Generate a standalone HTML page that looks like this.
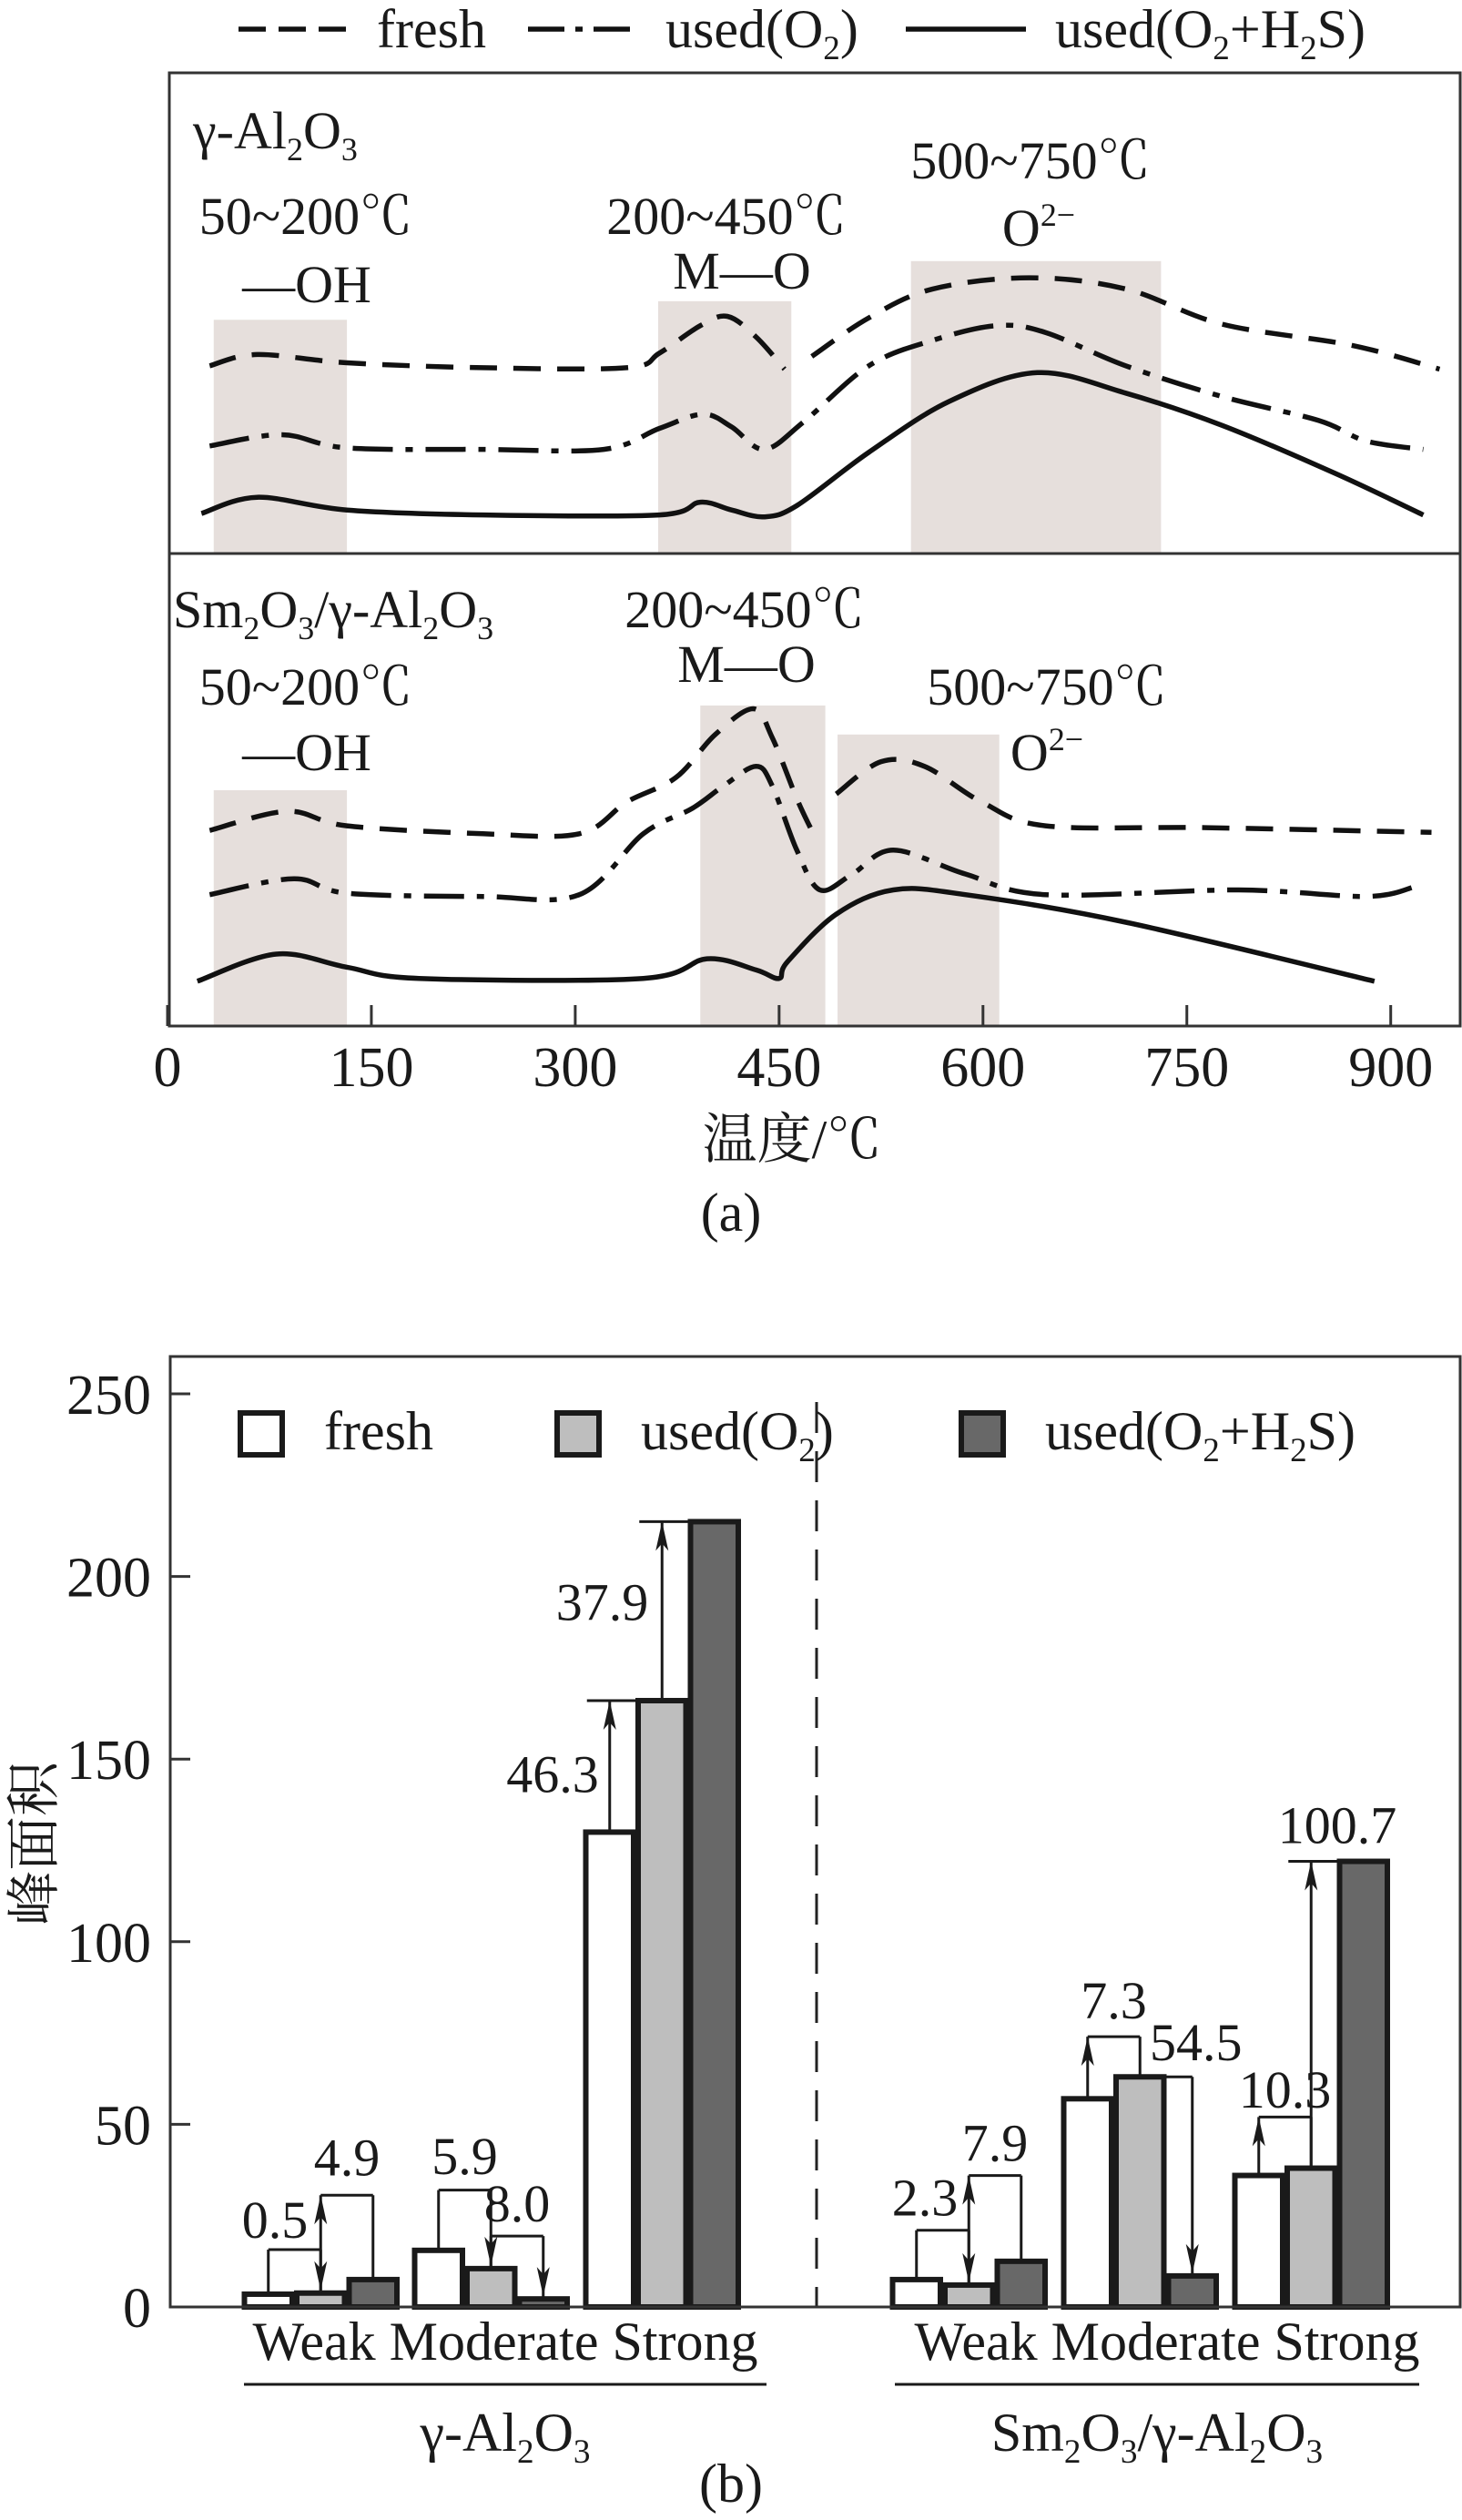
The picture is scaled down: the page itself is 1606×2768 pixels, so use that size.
<!DOCTYPE html>
<html><head><meta charset="utf-8"><style>
html,body{margin:0;padding:0;background:#fff}
svg{display:block}
text{font-family:"Liberation Serif","Times New Roman",serif;fill:#1a1a1a}
text.cjk{font-family:"Liberation Serif","Noto Serif CJK SC",serif}
</style></head><body>
<svg id="fig" width="1606" height="2768" viewBox="0 0 1606 2768" xmlns="http://www.w3.org/2000/svg">
<g id="gA"></g>
<g id="gB"></g>
</svg>
<script>
// ---------- Chart (a) data ----------
const tickTemps = [0,150,300,450,600,750,900];
const topFreshT = [31,66,132,232,338,362,392,412,433,454];
const topFreshI = [38.4,40.7,39.0,38.0,38.0,41.0,46.6,48.5,44.3,37.7];
const topFresh2T = [474,516,563,634,705,776,871,936];
const topFresh2I = [40.3,48.2,54.1,56.4,54.1,46.9,42.6,37.7];
const topUsedT = [31,84,132,232,321,362,394,415,439,468,516,563,610,646,705,776,847,882,924];
const topUsedI = [22.0,24.3,21.6,21.3,21.3,25.6,28.5,25.9,21.3,26.9,38.4,43.6,46.6,45.2,38.4,32.1,27.2,23.0,21.3];
const topH2sT = [25,66,132,232,362,392,415,439,463,516,575,640,705,776,859,924];
const topH2sI = [8.2,11.5,8.9,7.9,7.9,10.5,8.9,7.5,9.8,20.7,31.1,37.0,32.8,26.2,16.4,7.9];
const botFreshT = [31,88,132,232,303,338,374,403,431,445,463,474];
const botFreshI = [40.8,44.9,41.8,40.1,40.1,46.9,52.1,61.3,66.8,60.6,47.6,40.8];
const botFresh2T = [492,525,557,599,646,764,930];
const botFresh2I = [48.6,55.5,54.5,46.9,41.8,41.4,40.4];
const botUsedT = [31,93,132,232,303,350,386,409,433,445,463,480,504,534,587,646,788,882,918];
const botUsedI = [27.1,30.5,27.4,26.7,27.1,40.1,45.5,50.3,54.5,50.3,36.6,28.1,31.5,36.6,31.5,27.1,28.1,26.7,28.8];
const botH2sT = [22,80,132,185,350,397,433,450,456,492,534,587,705,888];
const botH2sI = [8.6,14.4,11.6,9.2,9.2,13.4,11.0,9.2,12.7,22.9,28.1,27.1,21.2,8.6];
const topBandStart = [34,361,547];
const topBandEnd = [132,459,731];
const topBandTop = [47.8,51.6,59.8];
const botBandStart = [34,392,493];
const botBandEnd = [132,484,612];
const botBandTop = [49.4,67.5,61.3];

// ---------- Chart (b) data ----------
const groups = ["Weak","Moderate","Strong","Weak","Moderate","Strong"];
const freshVals = [3.5,15.5,130,7.5,57,36];
const usedO2Vals = [3.8,10.5,166,6,63,38];
const usedH2sVals = [7.5,2.2,215,12.5,8.5,122];
const yTickVals = [0,50,100,150,200,250];
const annGroup = [0,0,1,1,2,2,3,3,4,4,5,5];
const annFrom  = [0,1,0,1,0,1,0,1,0,1,0,1];
const annTo    = [1,2,1,2,1,2,1,2,1,2,1,2];
const annLevel = [15.7,30.6,32,19.4,166,215,21,36,74,63,52,122];
const annMode  = ["down","up","down","down","top","top","down","up","up","down","up","top"];
const annLabel = ["0.5","4.9","5.9","8.0","46.3","37.9","2.3","7.9","7.3","54.5","10.3","100.7"];
const annLabelY= [19,36,36.4,23.4,141,188,25,40,79,67.5,54.6,127];

// ---------- helpers ----------
const NS="http://www.w3.org/2000/svg";
function mk(tag,attrs,parent){const e=document.createElementNS(NS,tag);for(const k in attrs)e.setAttribute(k,attrs[k]);parent.appendChild(e);return e;}
function crPath(pts){
  let d="M"+pts[0][0].toFixed(1)+","+pts[0][1].toFixed(1);
  for(let i=0;i<pts.length-1;i++){
    const p0=pts[Math.max(0,i-1)],p1=pts[i],p2=pts[i+1],p3=pts[Math.min(pts.length-1,i+2)];
    const c1=[p1[0]+(p2[0]-p0[0])/6,p1[1]+(p2[1]-p0[1])/6];
    const c2=[p2[0]-(p3[0]-p1[0])/6,p2[1]-(p3[1]-p1[1])/6];
    d+=" C"+c1[0].toFixed(1)+","+c1[1].toFixed(1)+" "+c2[0].toFixed(1)+","+c2[1].toFixed(1)+" "+p2[0].toFixed(1)+","+p2[1].toFixed(1);
  }
  return d;
}
function txt(parent,x,y,size,anchor,parts,name){
  const t=mk("text",{x:x,y:y,"font-size":size,"text-anchor":anchor},parent);
  
  
  let cur=0;
  parts.forEach(p=>{
    const s=mk("tspan",{},t);
    let target=0, fs=size;
    if(p[1]==="sub"){target=size*0.22;fs=size*0.62;}
    else if(p[1]==="sup"){target=-size*0.38;fs=size*0.62;}
    s.setAttribute("font-size",fs);
    s.setAttribute("dy",(target-cur).toFixed(2));
    cur=target;
    s.textContent=p[0];
  });
  return t;
}

// ---------- Chart (a) ----------
const A=document.getElementById("gA");
const ax0=184, axPer=1.493;
const xA=T=>ax0+T*axPer;
const yTop=I=>608-I*5.371;
const yBot=I=>1122-I*5.142;
const boxL=186, boxR=1604, boxT=80, boxM=608, boxB=1127;

function bands(st,en,tp,yf,bottom,nm){
  for(let i=0;i<st.length;i++){
    const r=mk("rect",{x:xA(st[i]),y:yf(tp[i]),width:xA(en[i])-xA(st[i]),height:bottom-yf(tp[i]),fill:"#e6dfdc"},A);
    
    
  }
}
bands(topBandStart,topBandEnd,topBandTop,yTop,boxM,'top');
bands(botBandStart,botBandEnd,botBandTop,yBot,boxB,'bottom');

const dashFresh="30,18", dashUsed="44,14,8,14";
function curve(T,I,yf,dash,nm){
  const pts=T.map((t,i)=>[xA(t),yf(I[i])]);
  const p=mk("path",{d:crPath(pts),fill:"none",stroke:"#111","stroke-width":5.5,"stroke-linecap":"butt"},A);
  if(dash)p.setAttribute("stroke-dasharray",dash);
  
  
}
curve(topFreshT,topFreshI,yTop,dashFresh,'top-fresh-line');
curve(topFresh2T,topFresh2I,yTop,dashFresh,'top-fresh-line-2');
curve(topUsedT,topUsedI,yTop,dashUsed,'top-used-o2-line');
curve(topH2sT,topH2sI,yTop,null,'top-used-o2-h2s-line');
curve(botFreshT,botFreshI,yBot,dashFresh,'bottom-fresh-line');
curve(botFresh2T,botFresh2I,yBot,dashFresh,'bottom-fresh-line-2');
curve(botUsedT,botUsedI,yBot,dashUsed,'bottom-used-o2-line');
curve(botH2sT,botH2sI,yBot,null,'bottom-used-o2-h2s-line');

let fr=mk("rect",{x:boxL,y:boxT,width:boxR-boxL,height:boxB-boxT,fill:"none",stroke:"#333","stroke-width":3},A);


let dv=mk("line",{x1:boxL,x2:boxR,y1:boxM,y2:boxM,stroke:"#333","stroke-width":3},A);


tickTemps.forEach(t=>{
  const l=mk("line",{x1:xA(t),x2:xA(t),y1:boxB,y2:boxB-23,stroke:"#333","stroke-width":3},A);
  
  
  txt(A,xA(t),1193,62,"middle",[[String(t)]],'x-tick-label');
});
let xt=mk("text",{x:870,y:1272,"font-size":60,"text-anchor":"middle","class":"cjk"},A);
xt.textContent="温度/℃";


txt(A,803,1352,60,"middle",[["(a)"]],'caption-a');

const legY=32;
let l1=mk("line",{x1:262,x2:380,y1:legY,y2:legY,stroke:"#111","stroke-width":5.5,"stroke-dasharray":"30,14"},A);


txt(A,414,52,60,"start",[["fresh"]],'legend-fresh-label');
let l2=mk("line",{x1:580,x2:692,y1:legY,y2:legY,stroke:"#111","stroke-width":5.5,"stroke-dasharray":"40,12,8,12"},A);


txt(A,731,52,60,"start",[["used(O"],["2","sub"],[")"]],'legend-used-o2-label');
let l3=mk("line",{x1:995,x2:1127,y1:legY,y2:legY,stroke:"#111","stroke-width":5.5},A);


txt(A,1159,52,60,"start",[["used(O"],["2","sub"],["+H"],["2","sub"],["S)"]],'legend-used-o2-h2s-label');

const deg="℃";
txt(A,212,163,58,"start",[["γ-Al"],["2","sub"],["O"],["3","sub"]],'top-panel-title');
txt(A,336,257,58,"middle",[["50~200"+deg]],'top-oh-range');
txt(A,337,332,58,"middle",[["—OH"]],'top-oh-label');
txt(A,798,257,58,"middle",[["200~450"+deg]],'top-mo-range');
txt(A,815,317,58,"middle",[["M—O"]],'top-mo-label');
txt(A,1132,196,58,"middle",[["500~750"+deg]],'top-o2-range');
txt(A,1141,270,58,"middle",[["O"],["2−","sup"]],'top-o2-label');
txt(A,190,689,58,"start",[["Sm"],["2","sub"],["O"],["3","sub"],["/γ-Al"],["2","sub"],["O"],["3","sub"]],'bottom-panel-title');
txt(A,336,774,58,"middle",[["50~200"+deg]],'bottom-oh-range');
txt(A,337,846,58,"middle",[["—OH"]],'bottom-oh-label');
txt(A,818,689,58,"middle",[["200~450"+deg]],'bottom-mo-range');
txt(A,820,749,58,"middle",[["M—O"]],'bottom-mo-label');
txt(A,1150,774,58,"middle",[["500~750"+deg]],'bottom-o2-range');
txt(A,1150,846,58,"middle",[["O"],["2−","sup"]],'bottom-o2-label');
document.querySelectorAll('#gA text').forEach(t=>{ if(t.textContent.indexOf('℃')>=0) t.setAttribute('class','cjk'); });

// ---------- Chart (b) ----------
const B=document.getElementById("gB");
const bL=187,bR=1604,bT=1490,y0=2534,per=4.012;
const yB=v=>y0-v*per;
const groupStart=[266,453,641,978,1166,1354];
const barW=57.5;
const fills=["#ffffff","#bebebe","#686868"];
const series=[freshVals,usedO2Vals,usedH2sVals];
const seriesNames=["fresh","used-o2","used-o2-h2s"];
const barCx=(g,b)=>groupStart[g]+barW*b+barW/2;

let bf=mk("rect",{x:bL,y:bT,width:bR-bL,height:y0-bT,fill:"none",stroke:"#333","stroke-width":3},B);


yTickVals.forEach(v=>{
  const l=mk("line",{x1:bL,x2:bL+22,y1:yB(v),y2:yB(v),stroke:"#333","stroke-width":3},B);
  
  
  txt(B,166,yB(v)+22,62,"end",[[String(v)]],'y-tick-label');
});
let yt=mk("text",{x:0,y:0,"font-size":60,"text-anchor":"middle","class":"cjk",transform:"translate(58,2025) rotate(-90)"},B);
yt.textContent="峰面积";



let sep=mk("line",{x1:897,x2:897,y1:1540,y2:y0,stroke:"#222","stroke-width":3,"stroke-dasharray":"34,20"},B);



for(let g=0;g<groups.length;g++){
  for(let s=0;s<3;s++){
    const v=series[s][g];
    const x=groupStart[g]+barW*s;
    const r=mk("rect",{x:x+2.5,y:yB(v),width:barW-5,height:y0-yB(v),fill:fills[s],stroke:"#1a1a1a","stroke-width":6},B);
    
    
  }
}
let zl=mk("line",{x1:bL,x2:bR,y1:y0,y2:y0,stroke:"#333","stroke-width":3},B);



function arrowHead(x,yTip,dir){
  const h=32,w=7;
  const yb=yTip+(dir==="up"?h:-h);
  const p=mk("path",{d:`M${x},${yTip} L${x-w},${yb} L${x},${yb+(dir==="up"?-8:8)} L${x+w},${yb} Z`,fill:"#1a1a1a"},B);
  
  
}
function seg(x1,y1,x2,y2){
  const l=mk("line",{x1:x1,y1:y1,x2:x2,y2:y2,stroke:"#1a1a1a","stroke-width":3},B);
  
  
}
const labelDx=[-14,0,0,0,-12,-15,-12,0,0,4,0,0];
const labelAnchor=["end","middle","middle","middle","end","end","end","middle","middle","middle","middle","middle"];
for(let i=0;i<annLabel.length;i++){
  const g=annGroup[i];
  const xa=barCx(g,annFrom[i]), xb=barCx(g,annTo[i]);
  const va=series[annFrom[i]][g], vb=series[annTo[i]][g];
  const yl=yB(annLevel[i]);
  let lx;
  if(annMode[i]==="down"){
    seg(xa,yB(va),xa,yl); seg(xa,yl,xb,yl); seg(xb,yl,xb,yB(vb)); arrowHead(xb,yB(vb)-3,"down");
    lx=(xa+xb)/2;
    if(labelAnchor[i]==="end") lx=xb;
  } else if(annMode[i]==="up"){
    seg(xa,yB(va),xa,yl); arrowHead(xa,yl,"up"); seg(xa,yl,xb,yl); seg(xb,yl,xb,yB(vb));
    lx=(xa+xb)/2;
  } else {
    seg(xa,yB(va),xa,yl); arrowHead(xa,yl,"up"); seg(xa-25,yl,xb,yl);
    lx=labelAnchor[i]==="end"?xa:(xa+xb)/2;
  }
  if(i===9) lx=xb;
  txt(B,lx+labelDx[i],yB(annLabelY[i]),58,labelAnchor[i],[[annLabel[i]]],'annotation-label-'+annLabel[i]);
}

const legBoxX=[261,609,1053], legTextX=[356,704,1148];
const legLabels=[[["fresh"]],[["used(O"],["2","sub"],[")"]],[["used(O"],["2","sub"],["+H"],["2","sub"],["S)"]]];
for(let s=0;s<3;s++){
  const r=mk("rect",{x:legBoxX[s]+3,y:1552,width:46,height:46,fill:fills[s],stroke:"#1a1a1a","stroke-width":6},B);
  
  
  txt(B,legTextX[s],1592,60,"start",legLabels[s],'legend-'+seriesNames[s]+'-label');
}
txt(B,555,2592,60,"middle",[["Weak Moderate Strong"]],'category-labels-al2o3');
txt(B,1282,2592,60,"middle",[["Weak Moderate Strong"]],'category-labels-sm2o3');
seg(268,2619,842,2619); seg(983,2619,1559,2619);
txt(B,555,2692,60,"middle",[["γ-Al"],["2","sub"],["O"],["3","sub"]],'group-label-al2o3');
txt(B,1271,2692,60,"middle",[["Sm"],["2","sub"],["O"],["3","sub"],["/γ-Al"],["2","sub"],["O"],["3","sub"]],'group-label-sm2o3');
txt(B,803,2748,60,"middle",[["(b)"]],'caption-b');
</script>
</body></html>
